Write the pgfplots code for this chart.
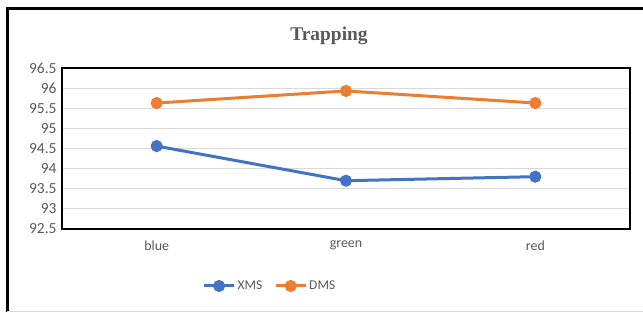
\documentclass[border=0pt]{standalone}
\usepackage{fontspec}
\setmainfont{Carlito}
\newfontfamily\titlefont{Liberation Serif}
\usepackage{pgfplots}
\pgfplotsset{compat=1.18}
\definecolor{xms}{HTML}{4472C4}
\definecolor{dms}{HTML}{ED7D31}
\definecolor{txt}{HTML}{595959}
\definecolor{grd}{HTML}{D9D9D9}
\begin{document}
\begin{tikzpicture}[x=1bp,y=1bp]
\useasboundingbox (0,0) rectangle (643,312);
\draw[line width=3bp,black] (7,0) -- (7,303) -- (643,303);
\draw[line width=1bp,grd] (7,1) -- (643,1);
\node[font=\titlefont\bfseries\fontsize{19.5}{22}\selectfont,text=txt] at (329,276) {Trapping};
\begin{axis}[
  at={(62bp,83bp)}, anchor=south west,
  scale only axis, width=568bp, height=161bp,
  xmin=-0.5, xmax=2.5, ymin=92.5, ymax=96.5,
  xtick={0,1,2}, xticklabels={blue,green,red},
  ytick={92.5,93,...,96.5},
  yticklabels={92.5,93,93.5,94,94.5,95,95.5,96,96.5},
  major tick length=0pt,
  ymajorgrids, grid style={grd, line width=1bp},
  axis line style={black, line width=2bp},
  tick label style={text=txt},
  xticklabel style={font=\fontsize{14}{16}\selectfont, yshift=-8bp},
  yticklabel style={font=\fontsize{15.5}{17}\selectfont, xshift=-2bp},
  /pgf/number format/assume math mode=true,
  legend style={at={(0.366,-0.354)}, anchor=center, draw=none, fill=none,
    font=\fontsize{13.5}{15}\selectfont, text=txt, legend columns=2,
    /tikz/every even column/.append style={column sep=10bp}},
  legend cell align=left,
  legend image code/.code={\draw[mark repeat=2,mark phase=2,#1] plot coordinates {(0bp,0bp) (15bp,0bp) (30bp,0bp)};},
]
\addplot[xms, line width=3bp, mark=*, mark size=4.5bp, mark options={solid}] coordinates {(0,94.56) (1,93.70) (2,93.80)};
\addlegendentry{XMS}
\addplot[dms, line width=3bp, mark=*, mark size=4.5bp, mark options={solid}] coordinates {(0,95.63) (1,95.93) (2,95.63)};
\addlegendentry{DMS}
\end{axis}
\end{tikzpicture}
\end{document}
